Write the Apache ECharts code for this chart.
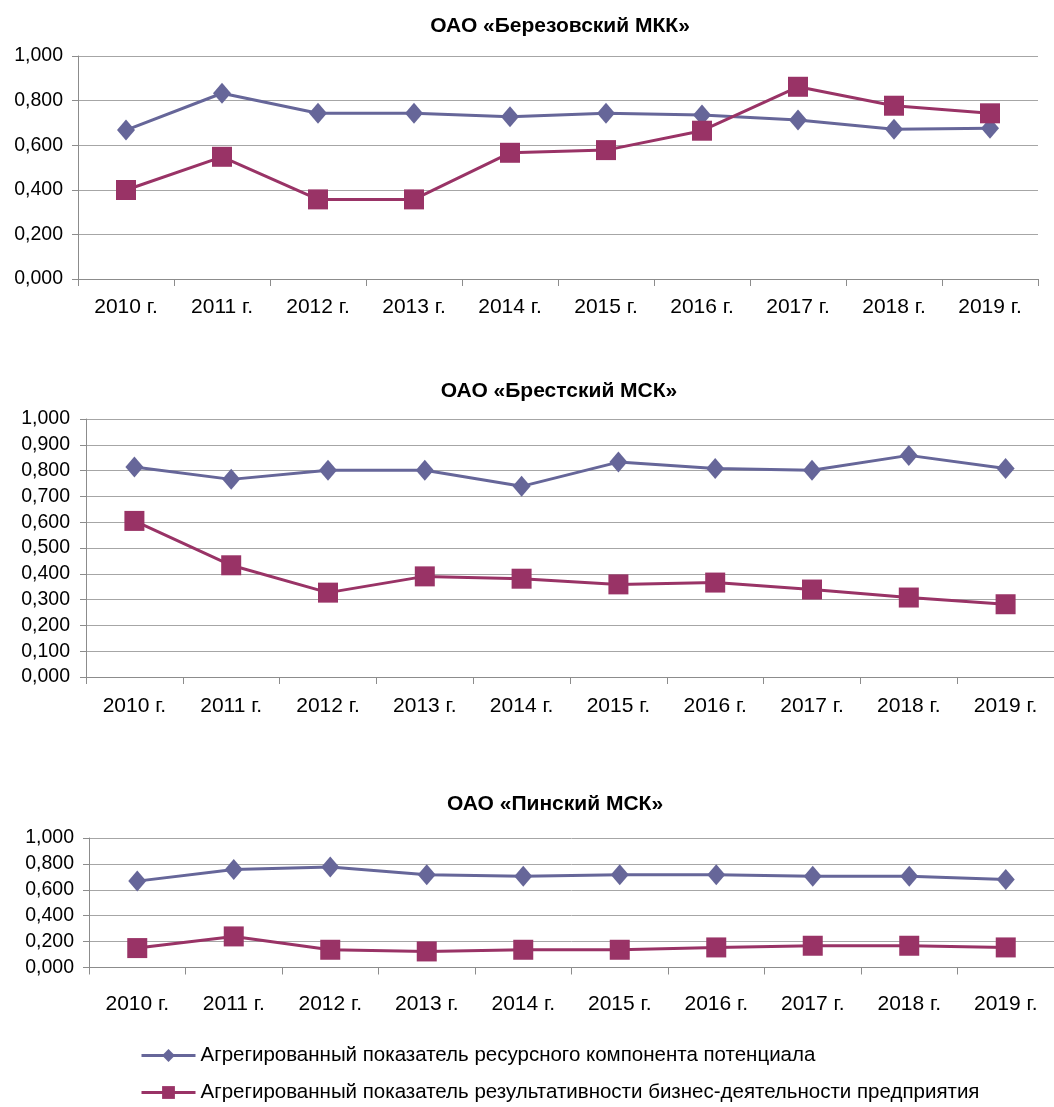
<!DOCTYPE html>
<html>
<head>
<meta charset="utf-8">
<script src="https://cdn.jsdelivr.net/npm/echarts@6/dist/echarts.min.js"></script>
<style>
html,body{margin:0;padding:0;background:#fff;}
#c{width:1054px;height:1107px;}
</style>
</head>
<body>
<div id="c"></div>
<script>
var categories = ['2010 г.','2011 г.','2012 г.','2013 г.','2014 г.','2015 г.','2016 г.','2017 г.','2018 г.','2019 г.'];
var titles = ['ОАО «Березовский МКК»','ОАО «Брестский МСК»','ОАО «Пинский МСК»'];
var seriesNames = ['Агрегированный показатель ресурсного компонента потенциала','Агрегированный показатель результативности бизнес-деятельности предприятия'];

var berezResource = [0.668,0.833,0.743,0.743,0.728,0.743,0.735,0.713,0.671,0.676];
var berezResult   = [0.399,0.548,0.357,0.357,0.566,0.578,0.665,0.862,0.777,0.743];
var brestResource = [0.814,0.766,0.801,0.801,0.739,0.833,0.808,0.801,0.859,0.808];
var brestResult   = [0.605,0.433,0.327,0.390,0.381,0.359,0.366,0.339,0.308,0.282];
var pinskResource = [0.667,0.756,0.776,0.717,0.704,0.717,0.717,0.704,0.704,0.680];
var pinskResult   = [0.150,0.240,0.137,0.124,0.137,0.137,0.155,0.168,0.168,0.155];

var yIntervals = [0.2, 0.1, 0.2];

var FONT = '"Liberation Sans", Arial, sans-serif';
var BLUE = '#666699';
var RED = '#993366';
var GRIDC = '#a6a6a6';
var AXISC = '#8c8c8c';

var grids = [
  {left:78, top:56, width:960, height:223},
  {left:86, top:419, width:977, height:258},
  {left:89, top:838, width:977, height:129.5}
];
var titleTops = [11, 376, 789];
var titleLefts = [555, 554, 550];
var xMargins = [18, 19, 26];
var yMargins = [15, 16, 15];

var chart = echarts.init(document.getElementById('c'), null, {renderer:'canvas'});

var dataSets = [[berezResource, berezResult],[brestResource, brestResult],[pinskResource, pinskResult]];

var option = {
  backgroundColor:'#fff',
  animation:false,
  title: titles.map(function(t,i){
    return {text:t, left:titleLefts[i], top:titleTops[i], textAlign:'center',
      textStyle:{fontFamily:FONT, fontSize:21, fontWeight:'bold', color:'#000'}};
  }),
  grid: grids.map(function(g){ return Object.assign({containLabel:false}, g); }),
  xAxis: grids.map(function(g,i){
    return {type:'category', gridIndex:i, data:categories, boundaryGap:true,
      axisLine:{lineStyle:{color:AXISC, width:1}},
      axisTick:{show:true, interval:0, length:7, lineStyle:{color:AXISC}},
      axisLabel:{interval:0, margin:xMargins[i], fontFamily:FONT, fontSize:21, color:'#000'},
      splitLine:{show:false}};
  }),
  yAxis: grids.map(function(g,i){
    return {type:'value', gridIndex:i, min:0, max:1, interval:yIntervals[i],
      axisLine:{show:true, lineStyle:{color:AXISC, width:1}},
      axisTick:{show:true, length:6, lineStyle:{color:AXISC}},
      axisLabel:{margin:yMargins[i], fontFamily:FONT, fontSize:19.5, color:'#000',
        formatter:function(v){ return v.toFixed(3).replace('.', ','); }},
      splitLine:{show:true, lineStyle:{color:GRIDC, width:1}}};
  }),
  legend:{
    orient:'vertical', left:140, top:1045, padding:0, itemWidth:54, itemHeight:16, itemGap:16,
    data:seriesNames,
    lineStyle:{width:3},
    textStyle:{fontFamily:FONT, fontSize:20.5, color:'#000'}
  },
  series:[]
};

dataSets.forEach(function(pair, i){
  option.series.push({
    name:seriesNames[0], type:'line', xAxisIndex:i, yAxisIndex:i, data:pair[0],
    symbol:'diamond', symbolSize:[18,21],
    lineStyle:{color:BLUE, width:3}, itemStyle:{color:BLUE}, z:2
  });
  option.series.push({
    name:seriesNames[1], type:'line', xAxisIndex:i, yAxisIndex:i, data:pair[1],
    symbol:'rect', symbolSize:20,
    lineStyle:{color:RED, width:3}, itemStyle:{color:RED}, z:3
  });
});

chart.setOption(option);
</script>
</body>
</html>
